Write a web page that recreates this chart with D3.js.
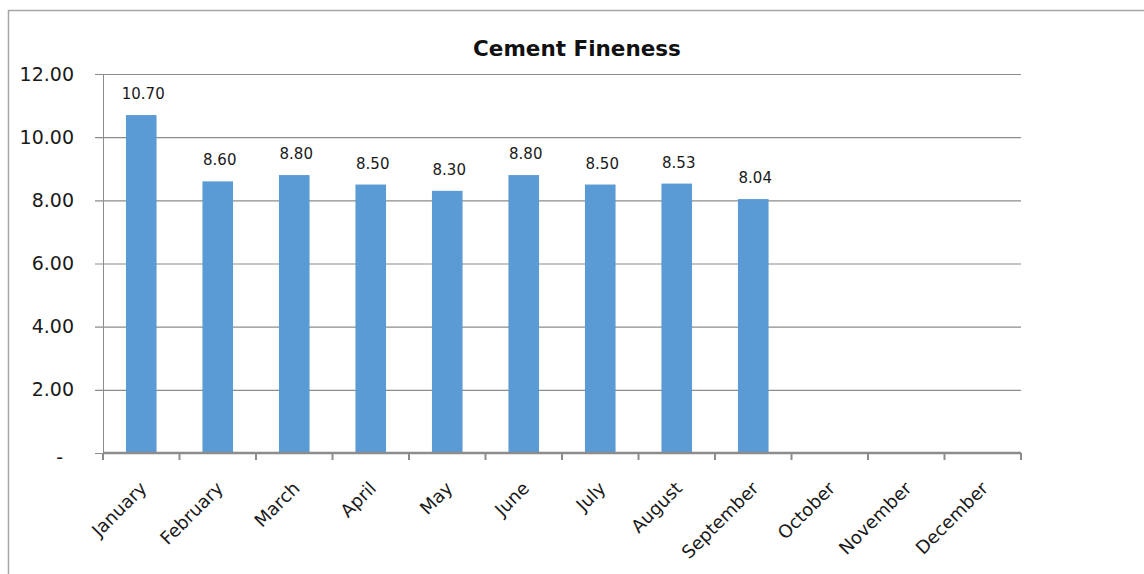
<!DOCTYPE html>
<html>
<head>
<meta charset="utf-8">
<script src="https://cdn.jsdelivr.net/npm/d3@7"></script>
<style>
  html, body { margin: 0; padding: 0; background: #fff; }
  svg { display: block; }
</style>
</head>
<body>
<svg id="chart" width="1144" height="574"></svg>
<script>
// Monthly cement fineness readings
const months = ["January","February","March","April","May","June","July","August","September","October","November","December"];
const fineness = [10.70, 8.60, 8.80, 8.50, 8.30, 8.80, 8.50, 8.53, 8.04, null, null, null];
const yTicks = [0, 2, 4, 6, 8, 10, 12];
const chartTitle = "Cement Fineness";

const svg = d3.select("#chart");
const W = 1144, H = 574;
const margin = { left: 103, right: 1144 - 1021, top: 74, bottom: 574 - 453 };
const FONT = "'DejaVu Sans', sans-serif";
const gridColor = "#8c8c8c";

// outer chart frame (extends past the right and bottom edges)
svg.append("rect")
  .attr("x", 8.5).attr("y", 10.5)
  .attr("width", W + 10).attr("height", H + 10)
  .attr("fill", "#fff").attr("stroke", "#a6a6a6").attr("stroke-width", 1.5);

const x = d3.scaleBand()
  .domain(months)
  .range([margin.left, W - margin.right])
  .paddingInner(0.6).paddingOuter(0.3);

const y = d3.scaleLinear()
  .domain([0, 12])
  .range([H - margin.bottom, margin.top]);

// horizontal gridlines with short ticks to the left
const yAxis = d3.axisLeft(y)
  .tickValues(yTicks)
  .tickSize(-(W - margin.right - margin.left))
  .tickSizeOuter(0)
  .tickFormat(d => d === 0 ? "-" : d3.format(".2f")(d));

const gy = svg.append("g")
  .attr("transform", `translate(${margin.left},0)`)
  .call(yAxis);
gy.select(".domain").attr("stroke", gridColor).attr("stroke-width", 1);
gy.selectAll(".tick line")
  .attr("x1", -8)
  .attr("stroke", gridColor).attr("stroke-width", 1.2);
gy.selectAll(".tick text")
  .attr("x", d => d === 0 ? -40 : -29)
  .attr("dy", d => d === 0 ? "0.55em" : "0.32em")
  .attr("font-family", FONT)
  .attr("font-size", 19)
  .attr("fill", "#1a1a1a");

// bars
svg.append("g")
  .selectAll("rect")
  .data(months.map((m, i) => ({ m, v: fineness[i] })).filter(d => d.v != null))
  .join("rect")
  .attr("x", d => x(d.m))
  .attr("y", d => y(d.v))
  .attr("width", x.bandwidth())
  .attr("height", d => y(0) - y(d.v))
  .attr("fill", "#5b9bd5");

// value labels
svg.append("g")
  .selectAll("text")
  .data(months.map((m, i) => ({ m, v: fineness[i] })).filter(d => d.v != null))
  .join("text")
  .attr("x", d => x(d.m) + x.bandwidth() / 2 + 2)
  .attr("y", d => y(d.v) - 16)
  .attr("text-anchor", "middle")
  .attr("font-family", FONT)
  .attr("font-size", 15)
  .attr("fill", "#1a1a1a")
  .text(d => d3.format(".2f")(d.v));

// category axis: ticks on band boundaries
const xb = d3.scalePoint()
  .domain(d3.range(months.length + 1))
  .range([margin.left, W - margin.right]);
const gx = svg.append("g")
  .attr("transform", `translate(0,${y(0)})`);
gx.append("line")
  .attr("x1", margin.left).attr("x2", W - margin.right)
  .attr("stroke", gridColor).attr("stroke-width", 2.5);
gx.selectAll("line.tk")
  .data(xb.domain())
  .join("line")
  .attr("class", "tk")
  .attr("x1", d => xb(d)).attr("x2", d => xb(d))
  .attr("y1", 0).attr("y2", 7)
  .attr("stroke", gridColor).attr("stroke-width", 2);

gx.selectAll("text")
  .data(months)
  .join("text")
  .attr("transform", d => `translate(${x(d) + x.bandwidth() / 2 + 2},${32}) rotate(-45)`)
  .attr("text-anchor", "end")
  .attr("dy", "0.35em")
  .attr("font-family", FONT)
  .attr("font-size", 18)
  .attr("fill", "#1a1a1a")
  .text(d => d);

// title
svg.append("text")
  .attr("x", 577).attr("y", 56)
  .attr("text-anchor", "middle")
  .attr("font-family", FONT)
  .attr("font-weight", "bold")
  .attr("font-size", 21.5)
  .attr("fill", "#111")
  .text(chartTitle);
</script>
</body>
</html>
